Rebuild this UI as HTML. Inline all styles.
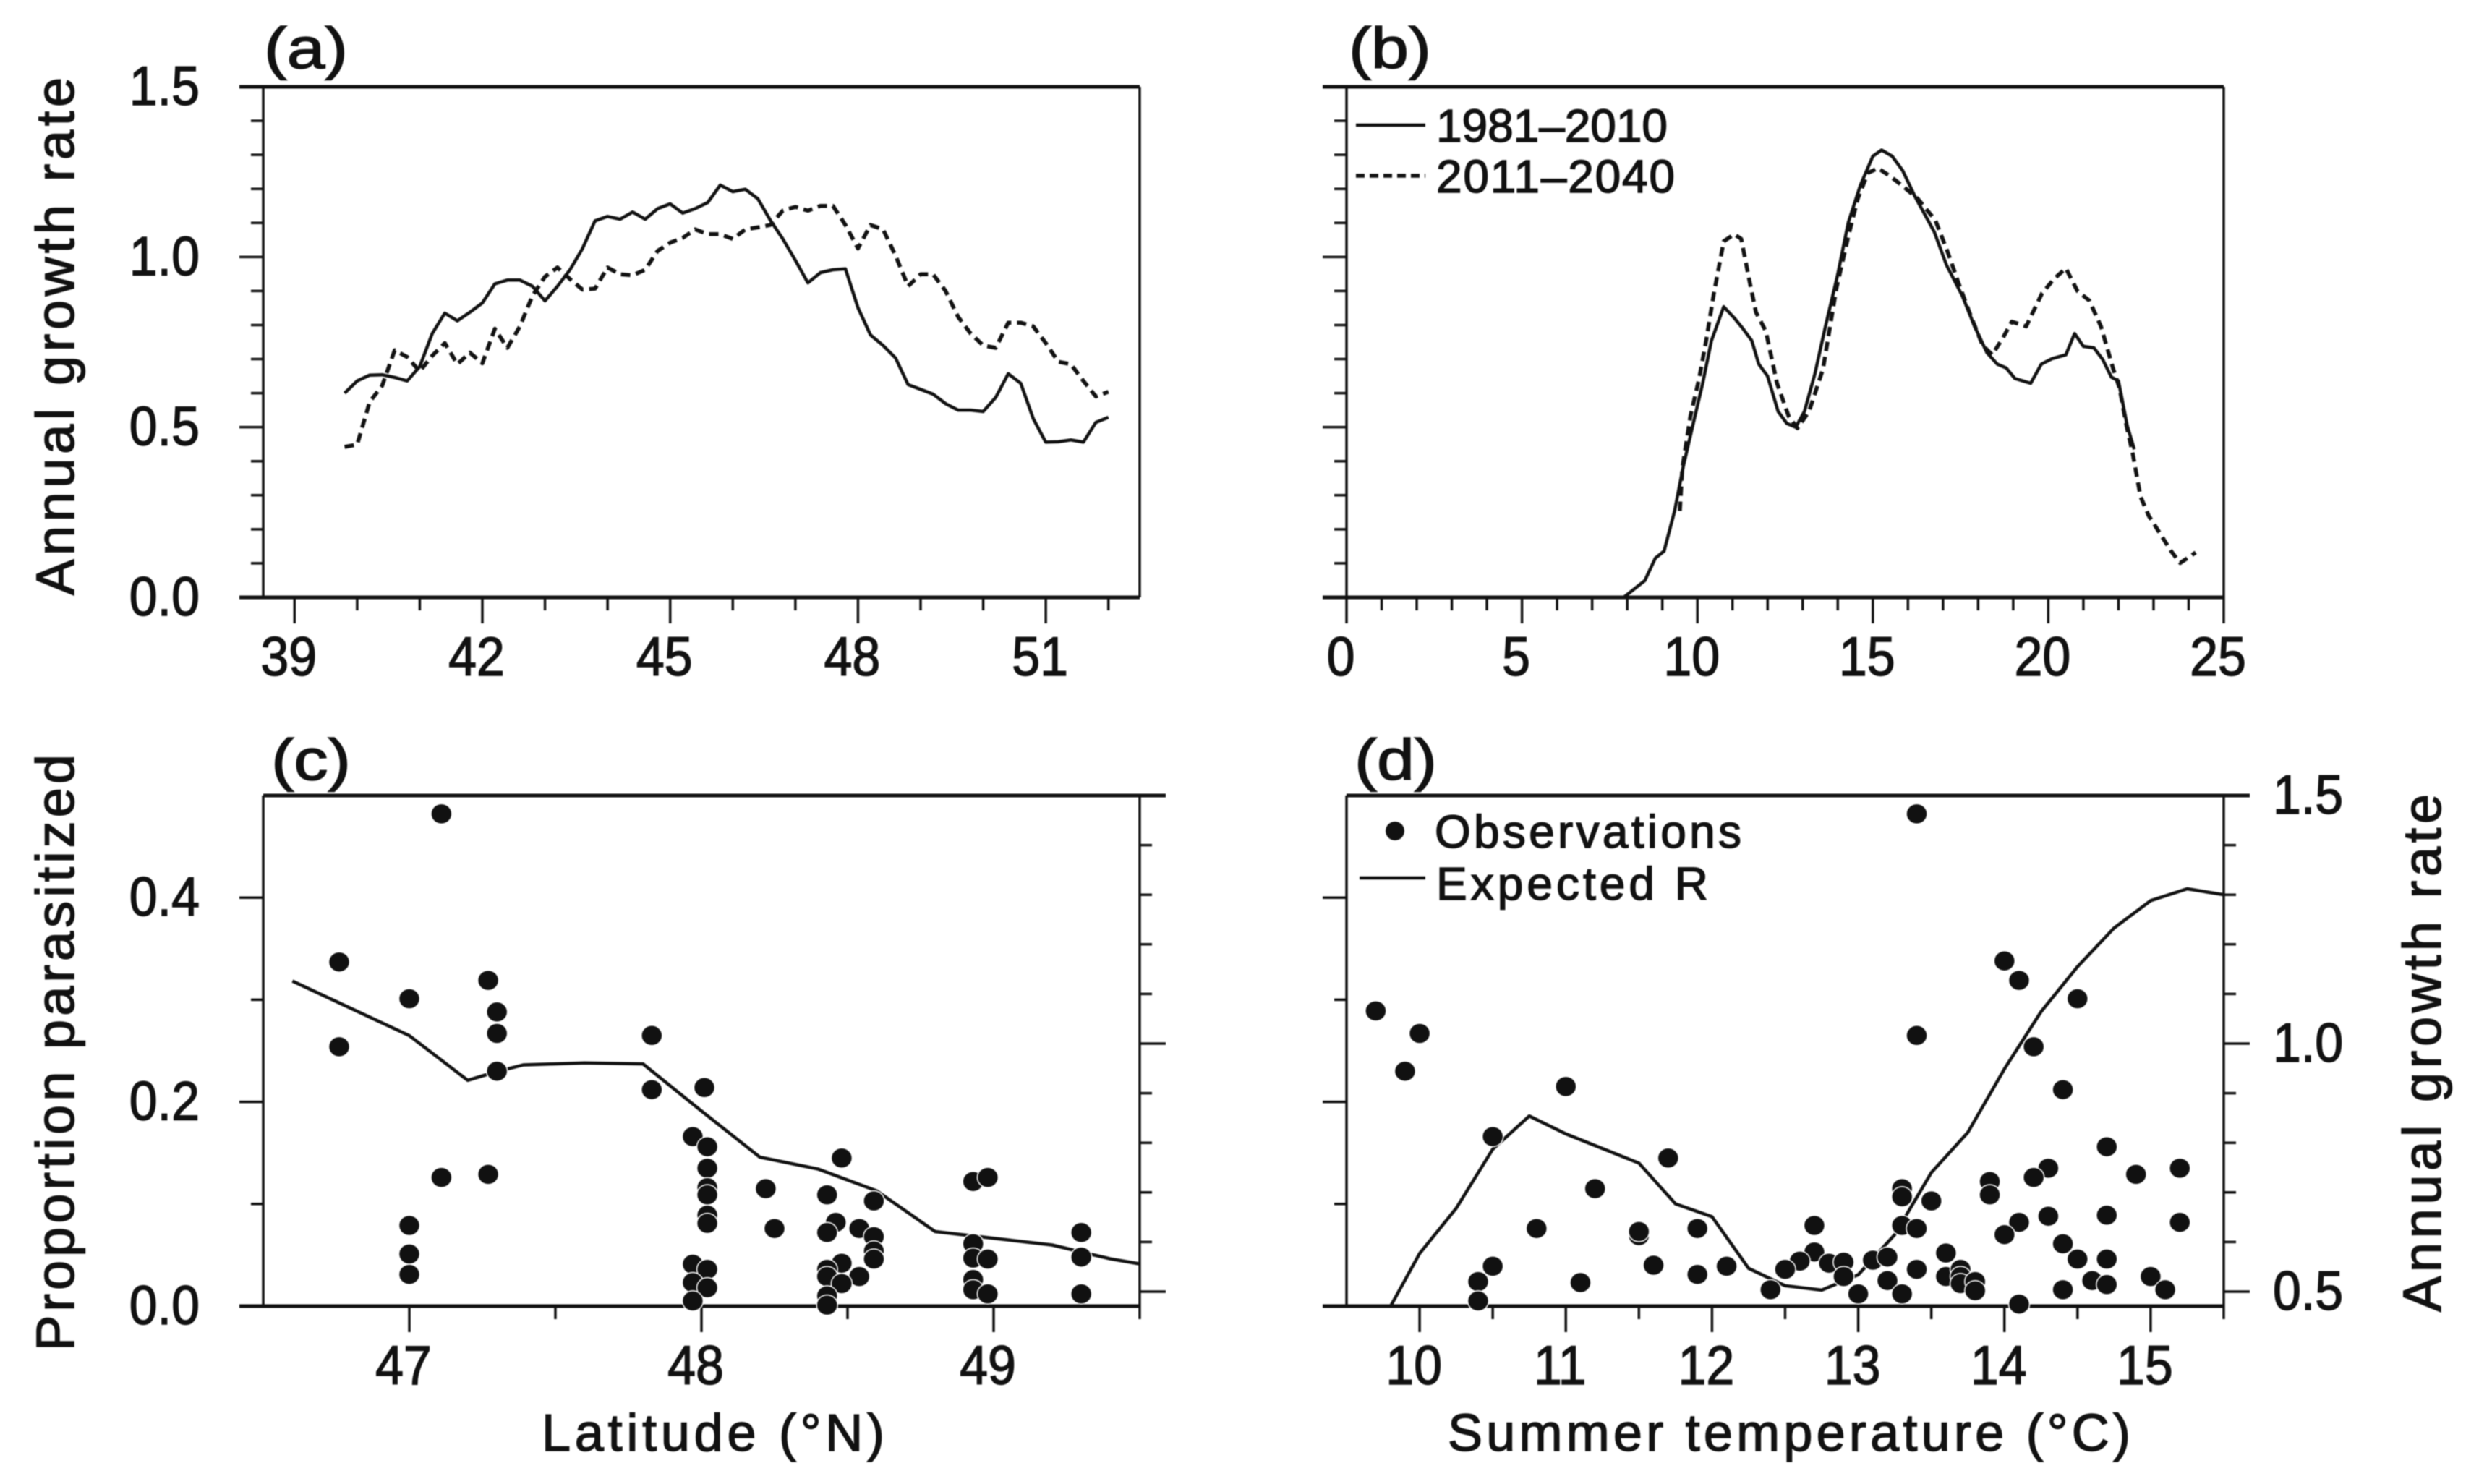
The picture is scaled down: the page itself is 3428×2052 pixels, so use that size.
<!DOCTYPE html>
<html>
<head>
<meta charset="utf-8">
<title>Annual growth rate and parasitism</title>
<style>
html,body{margin:0;padding:0;background:#fff;}
svg{display:block;filter:blur(0.8px);}
text{font-family:"Liberation Sans",sans-serif;fill:#111;stroke:#111;stroke-width:1.5px;}
</style>
</head>
<body>
<svg id="fig" xmlns="http://www.w3.org/2000/svg" width="3428" height="2052" viewBox="0 0 3428 2052">
<rect x="0" y="0" width="3428" height="2052" fill="#fff"/>
<g id="plots"></g>

<text x="365" y="94" font-size="80" textLength="116" lengthAdjust="spacingAndGlyphs">(a)</text>
<text x="1865" y="94" font-size="80" textLength="114" lengthAdjust="spacingAndGlyphs">(b)</text>
<text x="375" y="1078" font-size="80" textLength="110" lengthAdjust="spacingAndGlyphs">(c)</text>
<text x="1873" y="1078" font-size="80" textLength="114" lengthAdjust="spacingAndGlyphs">(d)</text>

<text transform="translate(102,823) rotate(-90)" font-size="74" textLength="716" lengthAdjust="spacing">Annual growth rate</text>
<text transform="translate(102,1868) rotate(-90)" font-size="74" textLength="825" lengthAdjust="spacing">Proportion parasitized</text>
<text transform="translate(3375,1814) rotate(-90)" font-size="74" textLength="716" lengthAdjust="spacing">Annual growth rate</text>
<text x="749" y="2006" font-size="72" textLength="474" lengthAdjust="spacing">Latitude (°N)</text>
<text x="2002" y="2006" font-size="72" textLength="944" lengthAdjust="spacing">Summer temperature (°C)</text>

<g>
<line x1="1875" y1="173" x2="1971" y2="173" stroke="#111" stroke-width="4.5"/>
<text x="1986" y="196" font-size="64" textLength="320" lengthAdjust="spacing">1981–2010</text>
<line x1="1875" y1="243" x2="1971" y2="243" stroke="#111" stroke-width="5.5" stroke-dasharray="12 7"/>
<text x="1986" y="266" font-size="64" textLength="330" lengthAdjust="spacing">2011–2040</text>
</g>
<g>
<ellipse cx="1929" cy="1149" rx="13" ry="13" fill="#111"/>
<text x="1984" y="1172" font-size="64" textLength="424" lengthAdjust="spacing">Observations</text>
<line x1="1880" y1="1214" x2="1971" y2="1214" stroke="#111" stroke-width="4.5"/>
<text x="1986" y="1244" font-size="64" textLength="376" lengthAdjust="spacing">Expected R</text>
</g>
</svg>
<script>
// ---- Panel (a): growth rate by latitude ----
var latitudeA = [39.8,40,40.2,40.4,40.6,40.8,41,41.2,41.4,41.6,41.8,42,42.2,42.4,42.6,42.8,43,43.2,43.4,43.6,43.8,44,44.2,44.4,44.6,44.8,45,45.2,45.4,45.6,45.8,46,46.2,46.4,46.6,46.8,47,47.2,47.4,47.6,47.8,48,48.2,48.4,48.6,48.8,49,49.2,49.4,49.6,49.8,50,50.2,50.4,50.6,50.8,51,51.2,51.4,51.6,51.8,52];
var growthLat1981 = [.60,.636,.653,.654,.646,.636,.678,.775,.835,.8125,.8375,.865,.921,.932,.932,.914,.871,.914,.9625,1.025,1.106,1.119,1.111,1.132,1.111,1.142,1.156,1.129,1.142,1.16,1.211,1.192,1.199,1.171,1.108,1.053,.99,.924,.954,.9625,.965,.851,.771,.74,.703,.625,.611,.597,.569,.55,.55,.546,.5875,.657,.629,.525,.456,.457,.4625,.456,.514,.529];
var growthLat2011 = [.442,.449,.574,.622,.726,.706,.664,.71,.747,.685,.719,.6875,.789,.733,.796,.886,.942,.969,.935,.904,.907,.969,.949,.946,.9625,1.018,1.042,1.056,1.081,1.067,1.067,1.053,1.081,1.087,1.094,1.136,1.147,1.136,1.15,1.15,1.094,1.025,1.094,1.081,1.004,.914,.949,.949,.9,.824,.775,.74,.733,.807,.807,.796,.747,.692,.685,.636,.59,.604];

// ---- Panel (b): growth rate by temperature ----
var temp1981 = [0,7.9,8.5,8.8,9.05,9.35,9.6,9.85,10.15,10.4,10.75,11.05,11.3,11.55,11.75,12.0,12.3,12.55,12.8,13.05,13.35,13.65,14.0,14.3,14.65,15.0,15.25,15.55,15.85,16.2,16.75,17.1,17.55,17.9,18.25,18.55,18.8,19.05,19.5,19.8,20.1,20.5,20.75,21.0,21.3,21.55,21.8,22.0,22.25,22.45];
var growthTemp1981 = [0,0,.049,.115,.136,.254,.386,.497,.629,.754,.854,.821,.789,.754,.685,.65,.546,.511,.5,.546,.657,.796,.949,1.101,1.212,1.296,1.314,1.296,1.254,1.178,1.074,.976,.886,.796,.719,.685,.674,.643,.629,.685,.701,.7125,.775,.7375,.733,.699,.647,.636,.504,.435];
var temp2011 = [9.5,9.57,9.8,10.05,10.25,10.47,10.75,11.05,11.25,11.5,11.67,11.95,12.27,12.6,12.85,13.18,13.58,13.96,14.3,14.57,14.86,15.15,15.55,15.88,16.28,16.78,17.12,17.45,17.8,18.13,18.4,18.7,18.96,19.37,19.82,20.16,20.5,20.83,21.17,21.5,21.85,22.03,22.23,22.41,22.63,22.86,23.2,23.5,23.76,24.2];
var growthTemp2011 = [.254,.379,.532,.643,.754,.893,1.046,1.067,1.053,.921,.8375,.782,.629,.532,.497,.546,.671,.907,1.06,1.171,1.247,1.261,1.233,1.206,1.171,1.108,1.018,.921,.824,.74,.7125,.761,.81,.796,.893,.935,.967,.9,.872,.796,.671,.615,.504,.421,.296,.24,.185,.136,.101,.132];

// ---- Panel (c): parasitism vs latitude ----
var latitudeExpected = [46.6,47,47.2,47.29,47.39,47.6,47.8,48,48.2,48.4,48.6,48.8,49.2,49.4,49.5];
var expectedRLat = [1.126,1.016,.926,.942,.957,.961,.959,.864,.771,.747,.703,.621,.594,.566,.556];
var obsLat = [47.11,46.76,46.76,47,47.27,47.3,47.3,47.3,47.11,47.27,47,47,47,47.83,47.83,48.01,47.97,48.02,48.02,48.02,48.02,48.02,48.02,47.97,48.02,47.97,48.02,47.97,48.22,48.25,48.48,48.43,48.59,48.46,48.43,48.54,48.59,48.59,48.59,48.48,48.43,48.43,48.54,48.48,48.43,48.43,48.93,48.98,48.93,48.93,48.98,48.93,48.93,48.98,49.3,49.3,49.3];
var obsLatProp = [.482,.337,.254,.301,.319,.288,.267,.23,.126,.129,.079,.051,.031,.265,.212,.214,.166,.156,.135,.116,.109,.089,.081,.041,.036,.023,.018,.005,.115,.076,.145,.109,.103,.082,.072,.076,.068,.054,.046,.042,.036,.029,.029,.022,.01,.001,.122,.126,.061,.047,.046,.026,.016,.012,.072,.048,.012];

// ---- Panel (d): parasitism vs temperature ----
var tempExpected = [9.8,10,10.25,10.5,10.75,11,11.5,11.75,12,12.25,12.5,12.75,13,13.25,13.5,13.75,14,14.25,14.5,14.75,15,15.25,15.5];
var expectedRTemp = [.47,.577,.668,.787,.854,.818,.759,.677,.651,.547,.512,.503,.534,.615,.74,.821,.949,1.064,1.155,1.233,1.288,1.312,1.3];
var obsTemp = [13.4,9.7,10,9.9,14,14.1,14.5,13.4,14.2,11,14.4,10.5,11.7,14.7,14.3,14.2,14.9,15.2,11.2,13.3,13.3,13.9,13.9,13.5,14.3,14.7,14.1,15.2,14,12.7,10.8,11.9,13.3,13.4,11.5,11.5,14.4,14.5,14.7,13.6,12.7,12.6,12.5,12.8,12.9,12.9,13.1,13.2,11.6,10.5,12.1,10.4,11.9,11.1,13.4,13.2,13.3,13,12.4,13.6,13.7,13.7,13.7,13.8,13.8,10.4,14.1,14.4,14.6,14.7,15,15.1];
var obsTempProp = [.482,.289,.267,.23,.338,.319,.301,.265,.254,.215,.212,.166,.145,.156,.135,.126,.129,.135,.115,.115,.107,.122,.109,.103,.088,.089,.082,.082,.07,.079,.076,.076,.079,.076,.069,.073,.061,.046,.046,.052,.053,.044,.036,.042,.043,.029,.045,.048,.04,.039,.039,.024,.031,.023,.036,.025,.012,.012,.016,.029,.036,.029,.022,.024,.015,.005,.002,.016,.025,.021,.029,.016];

// ---- Tick values ----
var growthTicks = [0,.5,1,1.5];
var growthLabels = ['0.0','0.5','1.0','1.5'];
var growthMinor = [.1,.2,.3,.4,.6,.7,.8,.9,1.1,1.2,1.3,1.4];
var propTicks = [0,.2,.4];
var propLabels = ['0.0','0.2','0.4'];
var propMinor = [.1,.3];
var rightMajor = [.5,1];
var rightMinor = [.6,.7,.8,.9,1.1,1.2,1.3,1.4];
var rightLabels = ['0.5','1.0','1.5'];
var rightLabelValues = [.5,1,1.5];
var xTicksA = [39,42,45,48,51];
var xMinorA = [40,41,43,44,46,47,49,50,52];
var xTicksB = [0,5,10,15,20,25];
var xMinorB = [1,2,3,4,6,7,8,9,11,12,13,14,16,17,18,19,21,22,23,24];
var xTicksC = [47,48,49];
var xMinorC = [47.5,48.5,49.5];
var xTicksD = [10,11,12,13,14,15];
var xMinorD = [10.5,11.5,12.5,13.5,14.5,15.5];

var NS = 'http://www.w3.org/2000/svg';
var root = document.getElementById('plots');
var INK = '#111';

function make(tag, attrs, name, parent) {
  var el = document.createElementNS(NS, tag);
  for (var k in attrs) { el.setAttribute(k, attrs[k]); }
  
  
  (parent || root).appendChild(el);
  return el;
}
function scale(d0, d1, r0, r1) {
  return function (v) { return r0 + (v - d0) * (r1 - r0) / (d1 - d0); };
}
function rule(x1, y1, x2, y2, w, name, g) {
  make('line', {x1: x1, y1: y1, x2: x2, y2: y2, stroke: INK, 'stroke-width': w}, name, g);
}
function label(x, y, s, anchor, name, g) {
  var t = make('text', {transform: 'translate(' + x + ',' + y + ') scale(.92,1)', 'font-size': 76, 'text-anchor': anchor}, name, g);
  t.textContent = s;
}
function series(xs, ys, fx, fy, dashed, name, g) {
  var pts = [];
  for (var i = 0; i < xs.length; i++) { pts.push(fx(xs[i]).toFixed(1) + ',' + fy(ys[i]).toFixed(1)); }
  var attrs = {points: pts.join(' '), fill: 'none', stroke: INK, 'stroke-width': dashed ? 5.5 : 4.5, 'stroke-linejoin': 'round'};
  if (dashed) { attrs['stroke-dasharray'] = '13 8'; }
  make('polyline', attrs, name, g);
}
function dots(xs, ys, fx, fy, name, g) {
  for (var i = 0; i < xs.length; i++) {
    make('ellipse', {cx: fx(xs[i]).toFixed(1), cy: fy(ys[i]).toFixed(1), rx: 14.5, ry: 14, fill: INK, stroke: '#fff', 'stroke-width': 1.5}, name + '-point', g);
  }
}
function frame(p, name) {
  var g = make('g', {}, name);
  rule(p.x0, p.top, p.x0, p.bottom, 3.5, name + '-left-axis', g);
  rule(p.x1, p.top, p.x1, p.bottom, 3.5, name + '-right-axis', g);
  rule(p.topFrom, p.top, p.topTo, p.top, 5, name + '-top-axis', g);
  rule(p.x0 - 33, p.bottom, p.x1, p.bottom, 5, name + '-bottom-axis', g);
  return g;
}
function xAxis(p, fx, major, minor, name, g) {
  major.forEach(function (v) {
    rule(fx(v), p.bottom, fx(v), p.bottom + 36, 3.5, name + '-major-tick', g);
    label(fx(v) - 8, p.bottom + 108, String(v), 'middle', name + '-tick-label', g);
  });
  minor.forEach(function (v) { rule(fx(v), p.bottom, fx(v), p.bottom + 18, 3.5, name + '-minor-tick', g); });
}
function yAxis(p, fy, major, labels, minor, name, g, showLabels) {
  major.forEach(function (v, i) {
    rule(p.x0 - 33, fy(v), p.x0, fy(v), 3.5, name + '-major-tick', g);
    if (showLabels) { label(p.x0 - 88, fy(v) + 25, labels[i], 'end', name + '-tick-label', g); }
  });
  minor.forEach(function (v) { rule(p.x0 - 17, fy(v), p.x0, fy(v), 3.5, name + '-minor-tick', g); });
}
function rightAxis(p, fr, name, g, showLabels) {
  rightMajor.forEach(function (v) { rule(p.x1, fr(v), p.x1 + 36, fr(v), 3.5, name + '-major-tick', g); });
  rightMinor.forEach(function (v) { rule(p.x1, fr(v), p.x1 + 17, fr(v), 3.5, name + '-minor-tick', g); });
  if (showLabels) {
    rightLabelValues.forEach(function (v, i) { label(p.x1 + 68, fr(v) + 25, rightLabels[i], 'start', name + '-tick-label', g); });
  }
}

// Panel a
var pa = {x0: 364, x1: 1576, top: 120, bottom: 826, topFrom: 331, topTo: 1576};
var ga = frame(pa, 'panel-a');
var xa = scale(38.5, 52.5, pa.x0, pa.x1);
var ya = scale(0, 1.5, pa.bottom, pa.top);
xAxis(pa, xa, xTicksA, xMinorA, 'panel-a-x', ga);
yAxis(pa, ya, growthTicks, growthLabels, growthMinor, 'panel-a-y', ga, true);
series(latitudeA, growthLat1981, xa, ya, false, 'panel-a-line-1981-2010', ga);
series(latitudeA, growthLat2011, xa, ya, true, 'panel-a-line-2011-2040', ga);

// Panel b
var pb = {x0: 1862, x1: 3075, top: 120, bottom: 826, topFrom: 1829, topTo: 3075};
var gb = frame(pb, 'panel-b');
var xb = scale(0, 25, pb.x0, pb.x1);
var yb = scale(0, 1.5, pb.bottom, pb.top);
xAxis(pb, xb, xTicksB, xMinorB, 'panel-b-x', gb);
yAxis(pb, yb, growthTicks, growthLabels, growthMinor, 'panel-b-y', gb, false);
series(temp1981, growthTemp1981, xb, yb, false, 'panel-b-line-1981-2010', gb);
series(temp2011, growthTemp2011, xb, yb, true, 'panel-b-line-2011-2040', gb);

// Panel c
var pc = {x0: 364, x1: 1576, top: 1100, bottom: 1806, topFrom: 364, topTo: 1612};
var gc = frame(pc, 'panel-c');
var xc = scale(46.5, 49.5, pc.x0, pc.x1);
var yc = scale(0, 0.5, pc.bottom, pc.top);
var rc = scale(0.5, 1.5, pc.top + 686, pc.top);
xAxis(pc, xc, xTicksC, xMinorC, 'panel-c-x', gc);
yAxis(pc, yc, propTicks, propLabels, propMinor, 'panel-c-y', gc, true);
rightAxis(pc, rc, 'panel-c-right', gc, false);
series(latitudeExpected, expectedRLat, xc, rc, false, 'panel-c-expected-line', gc);
dots(obsLat, obsLatProp, xc, yc, 'panel-c-observation', gc);

// Panel d
var pd = {x0: 1862, x1: 3075, top: 1100, bottom: 1806, topFrom: 1862, topTo: 3111};
var gd = frame(pd, 'panel-d');
var xd = scale(9.5, 15.5, pd.x0, pd.x1);
var yd = scale(0, 0.5, pd.bottom, pd.top);
var rd = scale(0.5, 1.5, pd.top + 686, pd.top);
xAxis(pd, xd, xTicksD, xMinorD, 'panel-d-x', gd);
yAxis(pd, yd, propTicks, propLabels, propMinor, 'panel-d-y', gd, false);
rightAxis(pd, rd, 'panel-d-right', gd, true);
series(tempExpected, expectedRTemp, xd, rd, false, 'panel-d-expected-line', gd);
dots(obsTemp, obsTempProp, xd, yd, 'panel-d-observation', gd);
</script>
</body>
</html>
